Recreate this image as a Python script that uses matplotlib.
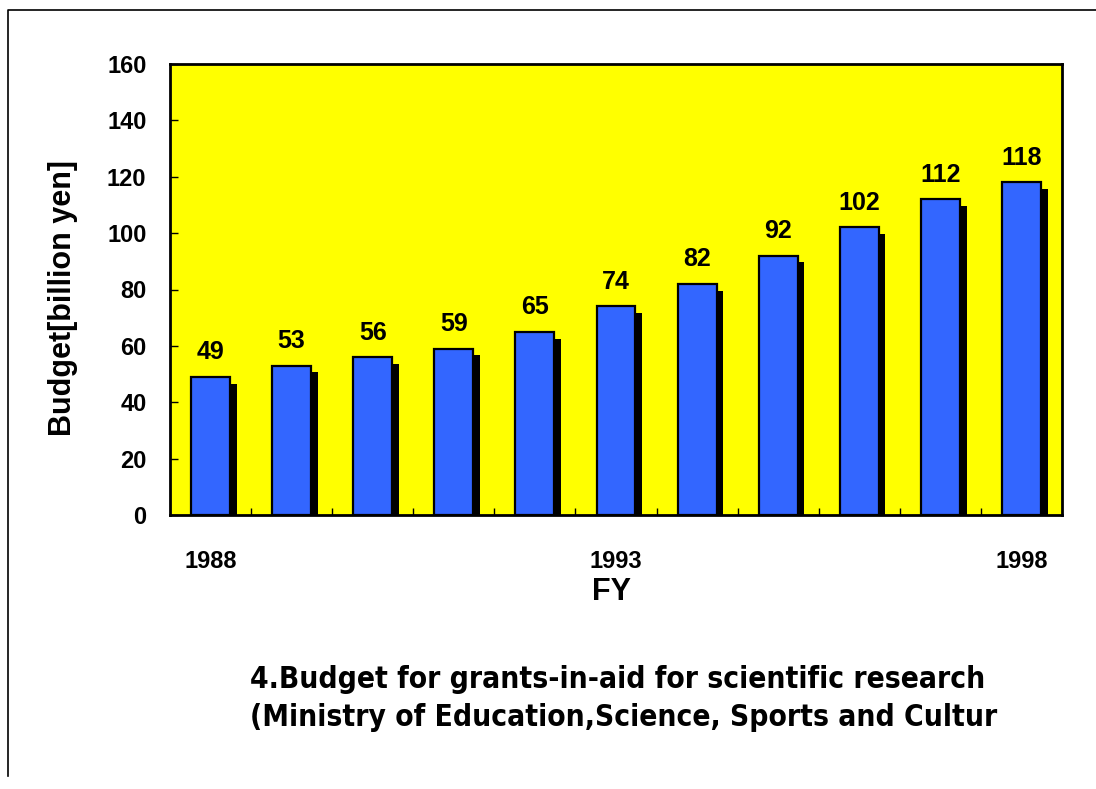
import numpy as np
import matplotlib.pyplot as plt
from matplotlib.lines import Line2D
from matplotlib.transforms import Bbox, TransformedBbox

# Grants-in-aid budget, FY1988-1998 (billion yen)
years = [1988, 1989, 1990, 1991, 1992, 1993, 1994, 1995, 1996, 1997, 1998]
budget = [49, 53, 56, 59, 65, 74, 82, 92, 102, 112, 118]
year_labels = ['1988', '1993', '1998']
year_label_pos = [0, 5, 10]
title_lines = ['4.Budget for grants-in-aid for scientific research',
               '(Ministry of Education,Science, Sports and Culture)']

W, H = 1096, 789
fig = plt.figure(figsize=(W / 100, H / 100), dpi=100)
ax = fig.add_axes([170 / W, 1 - 515 / H, 892 / W, 451 / H])
ax.set_facecolor('#FFFF00')

x = np.arange(len(budget))
bw = 0.48
# drop shadow first, then the blue bars
ax.bar(x + 0.083, np.array(budget) - 2.4, width=bw, color='black', zorder=2)
ax.bar(x, budget, width=bw, color='#3366FF', edgecolor='black', linewidth=1.6, zorder=3)

for xi, v in zip(x, budget):
    ax.annotate(str(v), (xi, v), xytext=(0, 9), textcoords='offset points',
                ha='center', va='bottom', fontsize=18, fontweight='bold',
                family='Liberation Sans')

ax.set_xlim(-0.5, len(budget) - 0.5)
ax.set_ylim(0, 160)
ax.set_yticks(range(0, 161, 20))
ax.set_xticks(year_label_pos)
ax.set_xticklabels(year_labels)
ax.set_xticks(np.arange(0.5, len(budget) - 1, 1), minor=True)

ax.tick_params(axis='y', direction='in', length=6, width=1, pad=17, labelsize=17)
ax.tick_params(axis='x', which='major', length=0, pad=25, labelsize=17)
ax.tick_params(axis='x', which='minor', direction='in', length=5, width=1)
for lab in ax.get_yticklabels() + ax.get_xticklabels():
    lab.set_fontweight('bold')
    lab.set_family('Liberation Sans')

for s in ax.spines.values():
    s.set_linewidth(2)

ax.set_ylabel('Budget[billion yen]', fontsize=22, fontweight='bold',
              family='Liberation Sans')
ax.yaxis.set_label_coords(-92 / 892, 0.5 - 9 / 451)
fig.text(612 / W, 1 - 592 / H, 'FY', ha='center', va='center', fontsize=22,
         fontweight='bold', family='Liberation Sans')

# caption under the chart, cut off at the right
clip = TransformedBbox(Bbox([[0, 0], [998 / W, 1]]), fig.transFigure)
for i, line in enumerate(title_lines):
    t = fig.text(250 / W, 1 - (680 + 37 * i) / H, line, ha='left', va='center',
                 fontsize=21.4, fontweight='bold', fontstretch='condensed',
                 family='DejaVu Sans')
    t.set_clip_box(clip)
    t.set_clip_on(True)

# frame around the figure (left and top edges)
fig.add_artist(Line2D([8 / W, 8 / W, 1], [1 - 776 / H, 1 - 10 / H, 1 - 10 / H],
                      transform=fig.transFigure, color='black', linewidth=1.2))

fig.savefig('out.png', dpi=100)
